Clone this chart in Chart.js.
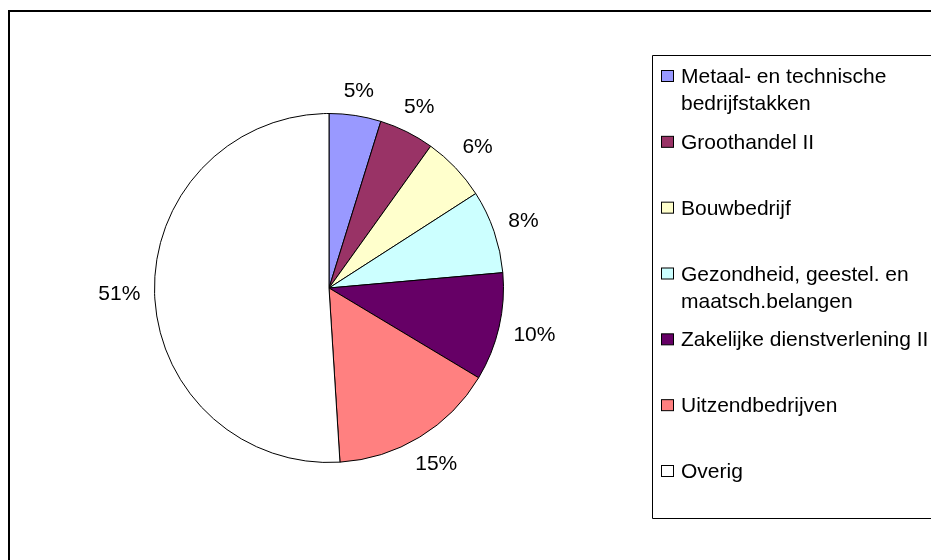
<!DOCTYPE html>
<html>
<head>
<meta charset="utf-8">
<script src="https://cdn.jsdelivr.net/npm/chart.js@4/dist/chart.umd.min.js"></script>
<style>
  html, body { margin: 0; padding: 0; background: #fff; }
  #wrap { width: 931px; height: 560px; }
</style>
</head>
<body>
<div id="wrap"><canvas id="pieChart" width="931" height="560"></canvas></div>
<script>
// Sector shares (percent), clockwise from 12 o'clock
const sectors = [
    'Metaal- en technische bedrijfstakken',
    'Groothandel II',
    'Bouwbedrijf',
    'Gezondheid, geestel. en maatsch.belangen',
    'Zakelijke dienstverlening II',
    'Uitzendbedrijven',
    'Overig'
];
const shares = [4.8, 5.1, 6.0, 7.7, 10.0, 15.4, 51.0];
const sliceColors = ['#9999FF', '#993366', '#FFFFCC', '#CCFFFF', '#660066', '#FF8080', '#FFFFFF'];

const FONT = '21px "Liberation Sans", Arial, sans-serif';

// frame around the whole chart (only left/top visible, rest is cropped)
const framePlugin = {
    id: 'frame',
    beforeDraw(chart) {
        const ctx = chart.ctx;
        ctx.save();
        ctx.fillStyle = '#fff';
        ctx.fillRect(0, 0, chart.width, chart.height);
        ctx.strokeStyle = '#000';
        ctx.lineWidth = 2;
        ctx.beginPath();
        ctx.moveTo(9, chart.height + 5);
        ctx.lineTo(9, 11);
        ctx.lineTo(chart.width + 5, 11);
        ctx.stroke();
        ctx.restore();
    }
};

// percentage labels outside each slice
const pctLabels = {
    id: 'pctLabels',
    afterDatasetsDraw(chart) {
        const ctx = chart.ctx;
        const data = chart.data.datasets[0].data;
        const total = data.reduce((a, b) => a + b, 0);
        ctx.save();
        ctx.font = FONT;
        ctx.fillStyle = '#000';
        ctx.textAlign = 'center';
        ctx.textBaseline = 'middle';
        chart.getDatasetMeta(0).data.forEach((arc, i) => {
            const p = arc.getProps(['x', 'y', 'startAngle', 'endAngle', 'outerRadius'], true);
            const mid = (p.startAngle + p.endAngle) / 2;
            const dx = Math.cos(mid), dy = Math.sin(mid);
            const txt = Math.round(data[i] / total * 100) + '%';
            const w = ctx.measureText(txt).width;
            const half = Math.abs(dx) * w / 2 + Math.abs(dy) * 8;
            const d = p.outerRadius + 14 + half;
            ctx.fillText(txt, p.x + dx * d, p.y + dy * d);
        });
        ctx.restore();
    }
};

// Excel-style legend box on the right
const boxLegend = {
    id: 'boxLegend',
    afterDraw(chart) {
        const ctx = chart.ctx;
        const labels = chart.data.labels;
        const colors = chart.data.datasets[0].backgroundColor;
        const left = 652.5, top = 55.5, bottom = 518.5;
        ctx.save();
        ctx.strokeStyle = '#000';
        ctx.lineWidth = 1;
        ctx.beginPath();
        ctx.moveTo(chart.width + 5, top);
        ctx.lineTo(left, top);
        ctx.lineTo(left, bottom);
        ctx.lineTo(chart.width + 5, bottom);
        ctx.stroke();

        ctx.font = FONT;
        ctx.textAlign = 'left';
        ctx.textBaseline = 'alphabetic';
        const maxW = 250;
        const step = (478 - 83) / (labels.length - 1);
        labels.forEach((lab, i) => {
            const base = 83 + i * step;
            // word wrap
            const words = lab.split(' ');
            const lines = [];
            let cur = '';
            words.forEach(wd => {
                const test = cur ? cur + ' ' + wd : wd;
                if (ctx.measureText(test).width > maxW && cur) {
                    lines.push(cur);
                    cur = wd;
                } else {
                    cur = test;
                }
            });
            lines.push(cur);

            ctx.fillStyle = colors[i];
            ctx.fillRect(661.5, base - 12.5, 12, 11);
            ctx.strokeStyle = '#000';
            ctx.strokeRect(661.5, base - 12.5, 12, 11);

            ctx.fillStyle = '#000';
            lines.forEach((ln, k) => ctx.fillText(ln, 681, base + k * 27));
        });
        ctx.restore();
    }
};

new Chart(document.getElementById('pieChart'), {
    type: 'pie',
    data: {
        labels: sectors,
        datasets: [{
            data: shares,
            backgroundColor: sliceColors,
            borderColor: '#000',
            borderWidth: 1
        }]
    },
    options: {
        responsive: false,
        animation: false,
        events: [],
        layout: {
            padding: { left: 154, right: 427, top: 113, bottom: 97 }
        },
        plugins: {
            legend: { display: false },
            tooltip: { enabled: false }
        }
    },
    plugins: [framePlugin, pctLabels, boxLegend]
});
</script>
</body>
</html>
